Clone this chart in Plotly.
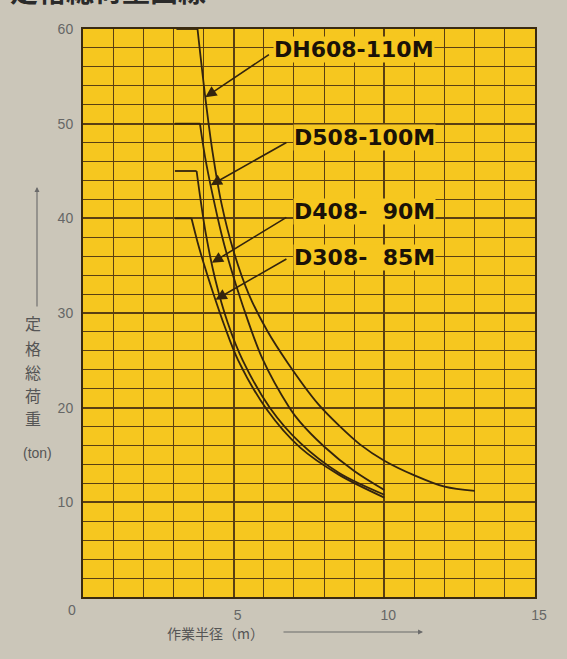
import numpy as np
import plotly.graph_objects as go

# ---------------- data ----------------
series_names = ["DH608-110M", "D508-100M", "D408-\u00a0\u00a090M", "D308-\u00a0\u00a085M"]

radius_dh608 = [3.1, 3.8, 4.05, 4.3, 4.6, 5.0, 5.5, 6.1, 6.8, 7.8, 8.5, 9.2, 10.0, 11.0, 12.0, 13.0]
load_dh608 = [60, 60, 53, 47, 41.5, 36.5, 32.0, 28.2, 24.7, 20.4, 18.1, 16.1, 14.4, 12.85, 11.65, 11.2]

radius_d508 = [3.05, 3.88, 4.05, 4.3, 4.6, 4.9, 5.3, 5.95, 6.85, 7.2, 8.0, 9.0, 10.0]
load_d508 = [50, 50, 46.5, 42.5, 38.3, 34.8, 30.8, 25.2, 20.0, 18.5, 15.9, 13.3, 11.3]

radius_d408 = [3.05, 3.77, 3.9, 4.08, 4.4, 4.8, 5.3, 6.2, 7.2, 8.5, 10.0]
load_d408 = [45, 45, 42.0, 38.3, 33.4, 29.0, 25.0, 20.0, 16.3, 13.1, 10.8]

radius_d308 = [3.05, 3.6, 3.8, 4.0, 4.3, 4.7, 5.15, 6.1, 7.2, 8.5, 10.0]
load_d308 = [40, 40, 37.5, 35.3, 32.3, 28.6, 25.0, 19.8, 15.8, 12.9, 10.5]

# load at which each label arrow touches its curve
arrow_tip_load = [52.8, 43.5, 35.3, 31.4]

x_tick_vals = [5, 10, 15]
x_tick_text = ["5", "10", "15"]
y_tick_vals = [10, 20, 30, 40, 50, 60]
y_tick_text = ["10", "20", "30", "40", "50", "60"]

y_title_chars = ["定", "格", "総", "荷", "重"]
y_title_unit = "(ton)"
x_title = "作業半径（m）"
page_title = "定格総荷重曲線"

# ---------------- styling ----------------
W, H = 567, 659
ML, MR, MT, MB = 83, 32, 29, 62
PW, PH = W - ML - MR, H - MT - MB
PAPER = "#cbc6b9"
YELLOW = "#f6c71f"
GRID = "#5a3f12"
FRAME = "#3a2a10"
CURVE = "#33240e"
GRAYTXT = "#666666"


def px_to_paper(px, py):
    return (px - ML) / PW, (H - MB - py) / PH


fig = go.Figure()

curves = [(radius_dh608, load_dh608), (radius_d508, load_d508),
          (radius_d408, load_d408), (radius_d308, load_d308)]

for name, (r, l) in zip(series_names, curves):
    # flat cap (straight) then the falling curve (smoothed)
    fig.add_trace(go.Scatter(x=r[:2], y=l[:2], mode="lines",
                             line=dict(color=CURVE, width=1.8),
                             showlegend=False, hoverinfo="skip", name=name))
    fig.add_trace(go.Scatter(x=r[1:], y=l[1:], mode="lines",
                             line=dict(color=CURVE, width=1.8, shape="spline", smoothing=0.9),
                             showlegend=False, name=name))

annotations = []

# label texts with arrows (left x, y) in data units
label_pos = [(6.31, 57.8), (6.97, 48.5), (6.97, 40.7), (6.97, 35.9)]
arrow_tail = [(6.22, 57.4), (6.8, 48.1), (6.8, 40.2), (6.8, 35.8)]
LFONT = dict(family="DejaVu Sans", size=22, color="#1a1208")

for i, (name, (r, l)) in enumerate(zip(series_names, curves)):
    lx, ly = label_pos[i]
    annotations.append(dict(x=lx, y=ly, xref="x", yref="y", text="<b>%s</b>" % name,
                            showarrow=False, xanchor="left", yanchor="middle",
                            font=LFONT, bgcolor=YELLOW, borderpad=0))
    rr = np.array(r[1:], dtype=float)
    ll = np.array(l[1:], dtype=float)
    tip_load = arrow_tip_load[i]
    tip_r = float(np.interp(tip_load, ll[::-1], rr[::-1]))
    tx, ty = arrow_tail[i]
    annotations.append(dict(x=tip_r, y=tip_load, xref="x", yref="y",
                            ax=tx, ay=ty, axref="x", ayref="y", text="",
                            showarrow=True, arrowhead=2, arrowsize=1.4,
                            arrowwidth=1.6, arrowcolor=CURVE, standoff=0))

# y-axis title: stacked characters
ych_y = [323, 348, 372, 395, 418]
for ch, py in zip(y_title_chars, ych_y):
    x, y = px_to_paper(33, py)
    annotations.append(dict(x=x, y=y, xref="paper", yref="paper", text=ch, showarrow=False,
                            xanchor="center", yanchor="middle",
                            font=dict(family="Noto Sans CJK JP", size=16, color="#555555")))
x, y = px_to_paper(37, 453)
annotations.append(dict(x=x, y=y, xref="paper", yref="paper", text=y_title_unit, showarrow=False,
                        xanchor="center", yanchor="middle",
                        font=dict(family="Liberation Sans", size=14, color="#555555")))
x, y = px_to_paper(37, 187)
annotations.append(dict(x=x, y=y, xref="paper", yref="paper", ax=0, ay=121, text="",
                        showarrow=True, arrowhead=2, arrowsize=0.9, arrowwidth=1.1,
                        arrowcolor="#6a6a6a", standoff=0))

# x-axis title and arrow
x, y = px_to_paper(215, 633)
annotations.append(dict(x=x, y=y, xref="paper", yref="paper", text=x_title, showarrow=False,
                        xanchor="center", yanchor="middle",
                        font=dict(family="Noto Sans CJK JP", size=14, color="#555555")))
x, y = px_to_paper(423, 632)
annotations.append(dict(x=x, y=y, xref="paper", yref="paper", ax=-141, ay=0, text="",
                        showarrow=True, arrowhead=2, arrowsize=0.9, arrowwidth=1.1,
                        arrowcolor="#6a6a6a", standoff=0))

# shared origin label
x, y = px_to_paper(72, 610)
annotations.append(dict(x=x, y=y, xref="paper", yref="paper", text="0", showarrow=False,
                        xanchor="center", yanchor="middle",
                        font=dict(family="Liberation Sans", size=14, color=GRAYTXT)))

# page title (cut off at the top edge, as in the reference)
x, y = px_to_paper(8, 12)
annotations.append(dict(x=x, y=y, xref="paper", yref="paper", text="<b>%s</b>" % page_title,
                        showarrow=False, xanchor="left", yanchor="bottom",
                        font=dict(family="Noto Sans CJK JP", size=28, color="#2a2a2a")))

fig.update_layout(
    width=W, height=H,
    margin=dict(l=ML, r=MR, t=MT, b=MB, pad=0),
    paper_bgcolor=PAPER, plot_bgcolor=YELLOW,
    showlegend=False,
    annotations=annotations,
    xaxis=dict(range=[0, 15], tickmode="array", tickvals=x_tick_vals, ticktext=x_tick_text,
               showgrid=True, gridcolor=GRID, gridwidth=1.6,
               minor=dict(tick0=0, dtick=1, showgrid=True, gridcolor=GRID, gridwidth=1.3),
               zeroline=False, showline=True, linecolor=FRAME, linewidth=2, mirror=True,
               ticks="", ticklabelshift=4, ticklabelstandoff=4,
               tickfont=dict(family="Liberation Sans", size=14, color=GRAYTXT)),
    yaxis=dict(range=[0, 60], tickmode="array", tickvals=y_tick_vals, ticktext=y_tick_text,
               showgrid=True, gridcolor=GRID, gridwidth=1.6,
               minor=dict(tick0=0, dtick=2, showgrid=True, gridcolor=GRID, gridwidth=1.3),
               zeroline=False, showline=True, linecolor=FRAME, linewidth=2, mirror=True,
               ticks="", ticklabelstandoff=5,
               tickfont=dict(family="Liberation Sans", size=14, color=GRAYTXT)),
)

fig.write_html("out.html",
               config={"displayModeBar": False},
               post_script="document.body.style.margin='0';"
                           "document.body.style.background='%s';" % PAPER)
